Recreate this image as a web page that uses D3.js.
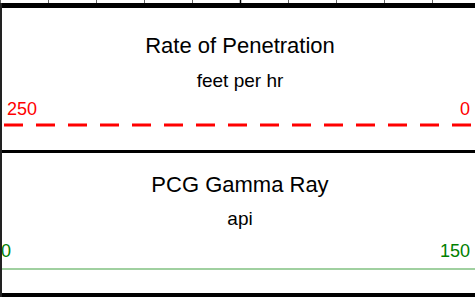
<!DOCTYPE html>
<html lang="en">
<head>
<meta charset="UTF-8">
<title>Track header</title>
<script src="https://d3js.org/d3.v7.min.js"></script>
<style>
    body { margin: 0; padding: 0; background: #fff; overflow: hidden; }
    svg { display: block; font-family: "Liberation Sans", Arial, sans-serif; }
</style>
</head>
<body>
<div id="chart"></div>
<script>
    // curve header data
    const curveNames = ["Rate of Penetration", "PCG Gamma Ray"];
    const curveUnits = ["feet per hr", "api"];
    const scaleLeft = [250, 0];
    const scaleRight = [0, 150];
    const gridDivisions = d3.range(0, 11); // 10 grid columns across the track

    const width = 475, height = 297;
    const trackW = 480; // track runs a bit past the right edge
    const curveStyle = [
        { color: "#ff0000", line: "#ff0000", width: 3, dash: "19,13", inset: 4 },
        { color: "#008000", line: "#80c080", width: 1.6, dash: null, inset: 0 }
    ];
    // vertical layout inside each header panel (name, unit, scale labels, line)
    const panelTop = [8, 152];
    const rowY = [
        { name: 53, unit: 87, scale: 115, line: 125 },
        { name: 192, unit: 225, scale: 257, line: 269 }
    ];

    const svg = d3.select("#chart").append("svg")
        .attr("width", width)
        .attr("height", height);

    // top grid ticks
    const gx = d3.scaleLinear().domain([0, 10]).range([0, trackW]);
    svg.append("g").selectAll("line")
        .data(gridDivisions)
        .enter().append("line")
        .attr("x1", d => gx(d) + 0.5)
        .attr("x2", d => gx(d) + 0.5)
        .attr("y1", 0)
        .attr("y2", 4)
        .attr("stroke", d => d === 5 ? "#000" : "#666")
        .attr("stroke-width", d => d === 5 ? 1.5 : 1);

    curveNames.forEach((name, i) => {
        const g = svg.append("g");
        const st = curveStyle[i];
        const r = rowY[i];
        const x = d3.scaleLinear().domain([scaleLeft[i], scaleRight[i]]).range([0, trackW]);

        g.append("text")
            .attr("x", 240).attr("y", r.name)
            .attr("text-anchor", "middle")
            .attr("font-size", 22)
            .attr("fill", "#000")
            .text(name);

        g.append("text")
            .attr("x", 240).attr("y", r.unit)
            .attr("text-anchor", "middle")
            .attr("font-size", 19)
            .attr("fill", "#000")
            .text(curveUnits[i]);

        g.append("text")
            .attr("x", i === 0 ? 7 : 1).attr("y", r.scale)
            .attr("font-size", 18)
            .attr("fill", st.color)
            .text(scaleLeft[i]);

        g.append("text")
            .attr("x", 470).attr("y", r.scale)
            .attr("text-anchor", "end")
            .attr("font-size", 18)
            .attr("fill", st.color)
            .text(scaleRight[i]);

        g.append("line")
            .attr("x1", x(scaleLeft[i]) + st.inset)
            .attr("x2", x(scaleRight[i]))
            .attr("y1", r.line).attr("y2", r.line)
            .attr("stroke", st.line)
            .attr("stroke-width", st.width)
            .attr("stroke-dasharray", st.dash);
    });

    // borders
    svg.append("rect")
        .attr("x", 0).attr("y", 3)
        .attr("width", width).attr("height", 5)
        .attr("fill", "#000");
    svg.append("rect")
        .attr("x", 0).attr("y", 150)
        .attr("width", width).attr("height", 3)
        .attr("fill", "#000");
    svg.append("rect")
        .attr("x", 0).attr("y", 293)
        .attr("width", width).attr("height", 4)
        .attr("fill", "#000");
    svg.append("rect")
        .attr("x", 0).attr("y", 3)
        .attr("width", 2).attr("height", height)
        .attr("fill", "#222");
</script>
</body>
</html>
